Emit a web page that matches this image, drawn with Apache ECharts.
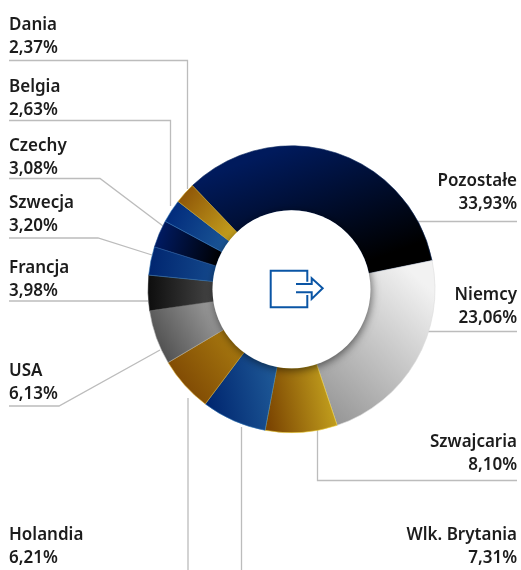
<!DOCTYPE html>
<html>
<head>
<meta charset="utf-8">
<style>
html,body{margin:0;padding:0;background:#fff;}
#chart{width:521px;height:570px;}
</style>
<script src="https://cdn.jsdelivr.net/npm/echarts@6/dist/echarts.min.js"></script>
</head>
<body>
<div id="chart"></div>
<script>
var countries = ['Pozostałe','Niemcy','Szwajcaria','Wlk. Brytania','Holandia','USA','Francja','Szwecja','Czechy','Belgia','Dania'];
var shares = [33.93,23.06,8.10,7.31,6.21,6.13,3.98,3.20,3.08,2.63,2.37];

// gradient per slice: from colour, to colour, direction, rim
var sliceFrom = ['#001a5c','#8e8e8e','#7c4602','#00266f','#743c00','#414141','#0d0d0d','#00256f','#001c68','#00287a','#8a5006'];
var sliceTo = ['#000000','#f2f2f2','#c9a820','#1f5a98','#a97b10','#9c9c9c','#454545','#14498c','#000000','#1b5796','#c8a41e'];
var sliceDir = [[0.4,0,0.6,1],[0,1,1,0.2],[0,0.5,1,0.3],[0,0.5,1,0.3],[0,1,1,0.2],[0,1,1,0.3],[0,0.5,1,0.5],[0,0.4,1,0.6],[0,0.3,1,0.7],[0,0.2,1,0.8],[0,0.1,1,0.9]];
var sliceRim = ['#0f2c62','#dcdcdc','#e8c830','#2f74b4','#d8a828','#a8a8a8','#444444','#2f74b4','#1f4c92','#2f74b4','#d0a828'];

// label anchor and leader line per slice
var labelPos = [
  {x:517,y:170,align:'right',line:[[517,221.5],[418,221.5]]},
  {x:517,y:284,align:'right',line:[[517,331.5],[427,331.5]]},
  {x:517,y:431,align:'right',line:[[517,480.5],[317.5,480.5],[317.5,430]]},
  {x:517,y:524,align:'right',line:[[241.5,575],[241.5,427]]},
  {x:9,y:524,align:'left',line:[[9,575],[188,575],[188,398]]},
  {x:9,y:360,align:'left',line:[[9,406],[59,406],[160,350]]},
  {x:9,y:257,align:'left',line:[[9,301],[148,301]]},
  {x:9,y:192,align:'left',line:[[9,238],[98,238],[152,255]]},
  {x:9,y:135,align:'left',line:[[9,178.5],[100,178.5],[163,226]]},
  {x:9,y:76,align:'left',line:[[9,120.5],[170.5,120.5],[170.5,206]]},
  {x:9,y:14,align:'left',line:[[9,60.5],[187.5,60.5],[187.5,189]]}
];

var chart = echarts.init(document.getElementById('chart'), null, {renderer:'canvas'});

var pieData = countries.map(function(name,i){
  var d = sliceDir[i];
  return {
    name: name,
    value: shares[i],
    itemStyle: {
      borderColor: sliceRim[i],
      borderWidth: 0.6,
      color: {
        type:'linear', x:d[0], y:d[1], x2:d[2], y2:d[3],
        colorStops:[{offset:0,color:sliceFrom[i]},{offset:1,color:sliceTo[i]}]
      }
    }
  };
});

var iconColor = '#0a55a5';

chart.setOption({
  animation: false,
  backgroundColor: '#fff',
  series: [{
    type: 'pie',
    center: [291.5,289.3],
    radius: [79,143.5],
    startAngle: 133.7,
    clockwise: true,
    avoidLabelOverlap: false,
    silent: true,
    data: pieData,
    label: {
      show: true,
      position: 'outside',
      fontFamily: 'Noto Sans',
      fontSize: 17,
      fontWeight: 600,
      lineHeight: 22.5,
      color: '#1c1c1c',
      formatter: function(p){
        return p.name + '\n' + p.value.toFixed(2).replace('.',',') + '%';
      }
    },
    labelLine: {
      show: true,
      smooth: 0,
      lineStyle: {color:'#bcbcbc',width:1.3}
    },
    labelLayout: function(p){
      var pos = labelPos[p.dataIndex];
      return {
        x: pos.x,
        y: pos.y,
        align: pos.align,
        verticalAlign: 'top',
        labelLinePoints: pos.line
      };
    }
  }],
  graphic: [
    // white hole with a soft shadow falling on the ring
    {
      type:'circle', z:5, silent:true,
      shape:{cx:291.5,cy:289.3,r:79},
      style:{fill:'#fff',shadowBlur:9,shadowColor:'rgba(0,0,0,0.55)',shadowOffsetX:1,shadowOffsetY:2}
    },
    {
      type:'polyline', z:6, silent:true,
      shape:{points:[[307.3,281.7],[307.3,270.7],[270.7,270.7],[270.7,307.3],[307.3,307.3],[307.3,295]]},
      style:{fill:null,stroke:iconColor,lineWidth:2}
    },
    {
      type:'polyline', z:6, silent:true,
      shape:{points:[[296,284],[311.7,284],[311.7,278.3],[322.7,288.3],[311.7,299],[311.7,292.3],[296,292.3]]},
      style:{fill:null,stroke:iconColor,lineWidth:2}
    }
  ]
});
</script>
</body>
</html>
